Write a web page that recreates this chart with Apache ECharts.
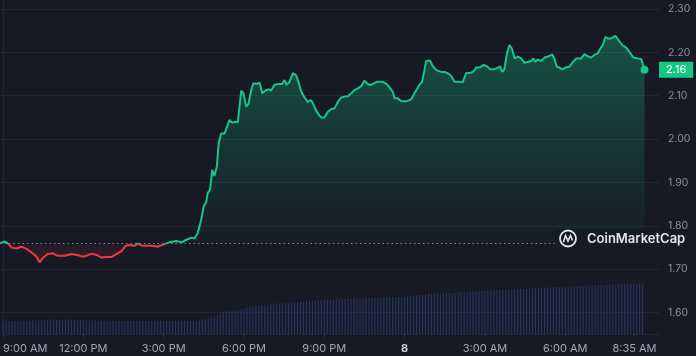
<!DOCTYPE html>
<html>
<head>
<meta charset="utf-8">
<script src="https://cdn.jsdelivr.net/npm/echarts@6/dist/echarts.min.js"></script>
<style>
html,body{margin:0;padding:0;background:#171924;}
#c{width:696px;height:356px;}
</style>
</head>
<body>
<div id="c"></div>
<script>
// hours since 9:00 AM
const priceTimes = [0,0.17,0.28,0.43,0.61,0.80,0.99,1.21,1.36,1.47,1.58,1.77,1.95,2.14,2.40,2.66,2.88,3.07,3.22,3.40,3.59,3.77,3.96,4.14,4.33,4.52,4.67,4.81,5.00,5.11,5.30,5.48,5.67,5.86,6.12,6.30,6.56,6.75,6.93,7.12,7.23,7.35,7.48,7.57,7.67,7.72,7.81,7.89,7.97,8.06,8.13,8.22,8.35,8.41,8.53,8.63,8.75,8.84,8.97,9.05,9.15,9.24,9.34,9.42,9.52,9.65,9.75,9.87,9.99,10.08,10.20,10.33,10.49,10.58,10.66,10.76,10.89,11.01,11.11,11.20,11.32,11.44,11.57,11.69,11.81,11.94,12.06,12.19,12.31,12.44,12.56,12.68,12.81,12.93,13.06,13.18,13.30,13.43,13.55,13.67,13.80,13.92,14.01,14.23,14.38,14.51,14.60,14.67,14.79,14.91,15.10,15.29,15.41,15.47,15.59,15.69,15.78,15.84,15.90,15.99,16.09,16.22,16.40,16.52,16.65,16.77,16.90,16.96,17.08,17.20,17.33,17.52,17.64,17.70,17.83,17.97,18.10,18.22,18.38,18.51,18.59,18.67,18.75,18.85,18.94,19.03,19.13,19.25,19.38,19.50,19.62,19.75,19.83,19.91,19.99,20.12,20.24,20.36,20.53,20.61,20.70,20.80,20.90,21.02,21.17,21.29,21.42,21.61,21.73,21.85,21.98,22.10,22.22,22.32,22.41,22.51,22.60,22.72,22.88,23.00,23.13,23.28,23.40,23.55,23.71,23.84,23.96];
const prices = [1.760,1.764,1.760,1.750,1.748,1.752,1.747,1.737,1.729,1.716,1.725,1.735,1.737,1.731,1.731,1.735,1.733,1.729,1.731,1.736,1.733,1.727,1.728,1.728,1.735,1.742,1.754,1.756,1.754,1.759,1.754,1.754,1.754,1.752,1.758,1.762,1.765,1.762,1.768,1.773,1.771,1.783,1.814,1.844,1.856,1.875,1.884,1.929,1.915,1.936,1.990,2.013,2.013,2.017,2.044,2.038,2.040,2.039,2.112,2.106,2.075,2.082,2.113,2.129,2.127,2.130,2.106,2.112,2.115,2.112,2.125,2.127,2.127,2.136,2.125,2.132,2.152,2.147,2.129,2.109,2.096,2.086,2.090,2.075,2.059,2.050,2.050,2.063,2.069,2.071,2.086,2.096,2.098,2.099,2.106,2.113,2.117,2.122,2.135,2.127,2.125,2.129,2.132,2.132,2.127,2.117,2.109,2.094,2.094,2.088,2.087,2.092,2.106,2.109,2.125,2.132,2.159,2.180,2.176,2.181,2.168,2.159,2.155,2.155,2.152,2.146,2.132,2.136,2.132,2.131,2.152,2.153,2.159,2.165,2.165,2.171,2.168,2.161,2.161,2.165,2.168,2.155,2.161,2.198,2.217,2.209,2.186,2.190,2.186,2.176,2.178,2.180,2.186,2.178,2.184,2.180,2.188,2.190,2.195,2.186,2.167,2.165,2.161,2.165,2.167,2.177,2.186,2.186,2.196,2.191,2.188,2.194,2.198,2.209,2.217,2.236,2.232,2.232,2.238,2.228,2.217,2.211,2.201,2.188,2.186,2.185,2.160];
const openPrice = 1.758;

// volume bars, one every 1/9 hour from 9:00 AM (relative units)
const volumeStepHours = 1 / 9;
const volumes = [13,13.5,13,13,12.5,13,13.5,13,13,13.5,
14,13.5,13.5,14,14,13.5,14,14.5,14,14,
13.5,14,14,14.5,14,13.5,14,14,13.5,13.5,
14,13.5,13,13.5,13.5,13,13.5,13,13,13.5,
13,13,13.5,13,13,13,13.5,13,13,13.5,
13,13,13.5,13,13,13.5,13,13,13.5,13.5,
13,13,13.5,13,13.5,13.5,13.5,14,14.5,15.5,
16.5,17.5,19,20.5,22,22.5,23,23.5,24,24.3,
24.7,25.5,26.3,27,27.8,28.2,28.5,28.8,29.2,29.6,
30,30.2,30.5,30.7,31,31.2,31.5,31.7,31.9,32,
32.2,32.3,32.6,33,33.3,33.5,33.7,34,34.2,34.3,
34.5,34.6,34.7,34.8,34.9,35,35,35.2,35.4,35.6,
35.7,35.8,35.9,36,36,36,36.1,36.2,36.7,36.7,
36.8,36.8,36.9,36.9,37,37,38,38.2,38.4,38.6,
38.8,39,39.8,40,40.3,40.6,40.7,40.7,40.8,40.8,
40.9,41,41.2,41.4,41.6,41.8,42,42.2,42.3,42.5,
42.7,42.9,43.1,43.3,43.5,43.7,43.9,44,44.1,44.3,
44.4,44.6,44.7,44.9,45,45.2,45.4,45.6,45.8,46,
46.1,46.3,46.4,46.5,46.6,46.8,47,47.1,47.3,47.4,
47.6,47.7,47.9,48,48.2,48.3,48.5,48.6,48.8,49,
49,49.1,49.2,49.3,49.4,49.5,49.6,49.7,49.8,49.9,
50,50.1,50.2,50.3,50.4,50.5];

const xTickValues = [0,3,6,9,12,15,18,21,23.583];
const xTickLabels = ['9:00 AM','12:00 PM','3:00 PM','6:00 PM','9:00 PM','8','3:00 AM','6:00 AM','8:35 AM'];

const GREEN = '#16c784', RED = '#ea3943', BG = '#171924', GRID = '#232634';
const FONT = 'Inter, "Noto Sans", sans-serif';

const lastT = priceTimes[priceTimes.length - 1];
const lastP = prices[prices.length - 1];
const pMax = Math.max(...prices), pMin = Math.min(...prices);
const off = (pMax - openPrice) / (pMax - pMin);

const chart = echarts.init(document.getElementById('c'), null, {renderer: 'canvas'});
chart.setOption({
  backgroundColor: BG,
  animation: false,
  grid: [
    {left: 0, right: 37, top: 9, height: 347.2},
    {left: 0, right: 37, top: 0, bottom: 22}
  ],
  xAxis: [
    {gridIndex: 0, type: 'value', min: 0, max: 24.5, show: false},
    {gridIndex: 1, type: 'value', min: 0, max: 24.5,
     axisLine: {show: true, lineStyle: {color: GRID}},
     axisTick: {show: true, customValues: xTickValues, length: 3, lineStyle: {color: '#343847'}},
     splitLine: {show: false},
     axisLabel: {
       customValues: xTickValues, margin: 9, color: '#a1a7bb', fontSize: 11, fontFamily: FONT,
       alignMinLabel: 'left',
       formatter: function (v) {
         let idx = xTickValues.findIndex(t => Math.abs(t - v) < 1e-6);
         const s = idx >= 0 ? xTickLabels[idx] : '';
         return s === '8' ? '{b|8}' : s;
       },
       rich: {b: {fontWeight: 'bold', color: '#cfd3dc', fontSize: 11, fontFamily: FONT}}
     }}
  ],
  yAxis: [
    {gridIndex: 0, type: 'value', position: 'right', min: 1.5, max: 2.3, interval: 0.1,
     axisLine: {show: false}, axisTick: {show: false},
     splitLine: {show: true, lineStyle: {color: GRID, width: 1}},
     axisLabel: {margin: 9, color: '#8a90a2', fontSize: 10.5, fontFamily: FONT, showMinLabel: false,
       formatter: v => v.toFixed(2)}},
    {gridIndex: 1, type: 'value', position: 'right', min: 0, max: 334,
     axisLine: {show: true, lineStyle: {color: GRID}}, axisTick: {show: false},
     splitLine: {show: false}, axisLabel: {show: false}}
  ],
  visualMap: {
    show: false, type: 'piecewise', seriesIndex: 1, dimension: 1,
    pieces: [{gte: 0, lte: openPrice, color: RED}, {gt: openPrice, lte: 10, color: GREEN}]
  },
  series: [
    {
      type: 'bar', xAxisIndex: 1, yAxisIndex: 1, z: 1,
      barWidth: 1.1,
      itemStyle: {color: '#2a3562'},
      data: volumes.map((v, i) => [i * volumeStepHours, v])
    },
    {
      type: 'line', xAxisIndex: 0, yAxisIndex: 0, z: 3,
      symbol: 'none', showSymbol: false,
      lineStyle: {width: 2},
      areaStyle: {
        origin: openPrice, opacity: 1,
        color: new echarts.graphic.LinearGradient(0, 0, 0, 1, [
          {offset: 0, color: 'rgba(22,199,132,0.32)'},
          {offset: off * 0.999, color: 'rgba(22,199,132,0.02)'},
          {offset: off, color: 'rgba(234,57,67,0.04)'},
          {offset: 1, color: 'rgba(234,57,67,0.16)'}
        ])
      },
      data: priceTimes.map((t, i) => [t, prices[i]]),
      markLine: {
        silent: true, symbol: 'none', animation: false,
        data: [
          {yAxis: openPrice, lineStyle: {type: [1.5, 3], color: '#7a8092', width: 1}, label: {show: false}}
        ]
      },
      markPoint: {
        symbol: 'circle', symbolSize: 8, silent: true,
        itemStyle: {color: GREEN},
        label: {show: false},
        data: [{coord: [lastT, lastP]}]
      }
    },
    {
      // carrier for the last-price tag on the right axis
      type: 'line', xAxisIndex: 0, yAxisIndex: 0, z: 5,
      data: [], silent: true,
      markLine: {
        silent: true, symbol: 'none', animation: false,
        lineStyle: {color: 'rgba(0,0,0,0)', width: 0},
        data: [
          {yAxis: lastP,
           label: {show: true, position: 'end', distance: 0, formatter: lastP.toFixed(2),
             backgroundColor: GREEN, color: '#ffffff', padding: [3, 7, 2, 7], fontSize: 11, fontFamily: FONT}}
        ]
      }
    }
  ],
  graphic: [
    {type: 'rect', z: 100, shape: {x: 555, y: 229, width: 104, height: 20}, style: {fill: BG}},
    {type: 'circle', z: 101, shape: {cx: 568, cy: 238.5, r: 8}, style: {fill: 'none', stroke: '#e4e6ec', lineWidth: 1.8}},
    {type: 'polyline', z: 101, shape: {points: [[563.5, 242], [565.5, 235.5], [568, 241], [570.5, 235.5], [572.5, 240.5]]},
     style: {fill: 'none', stroke: '#e4e6ec', lineWidth: 1.6}},
    {type: 'text', z: 101, x: 587, y: 239,
     style: {text: 'CoinMarketCap', fill: '#e4e6ec', font: '600 13px ' + FONT, textVerticalAlign: 'middle'}}
  ]
});
</script>
</body>
</html>
